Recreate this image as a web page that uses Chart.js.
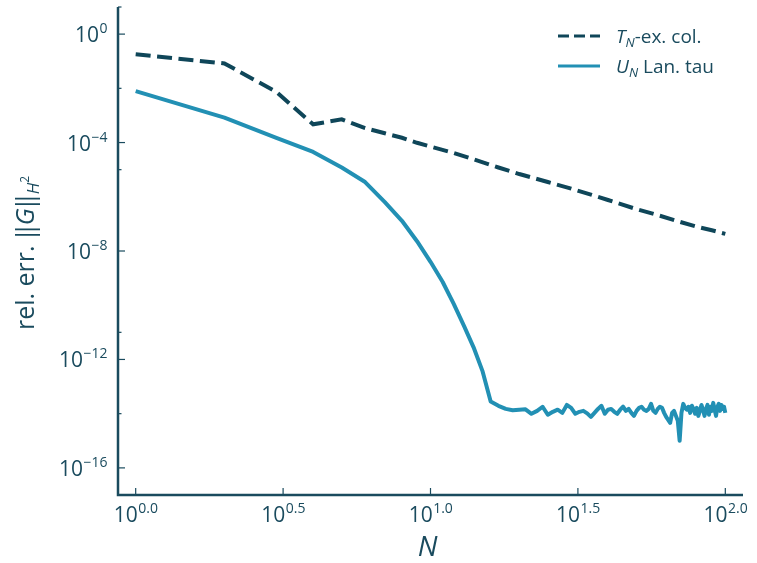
<!DOCTYPE html>
<html>
<head>
<meta charset="utf-8">
<script src="https://cdn.jsdelivr.net/npm/chart.js@4"></script>
<style>
  body { margin: 0; background: #fff; }
  #wrap { width: 757px; height: 563px; }
</style>
</head>
<body>
<div id="wrap"><canvas id="myChart" width="757" height="563"></canvas></div>
<script>
// T_N exact collocation (dashed)
var nT = [1, 2, 3, 4, 5, 6, 7, 8, 9, 10, 12, 14, 17, 20, 25, 30, 35, 40, 50, 60, 70, 80, 90, 100];
var errT = [1.8e-1, 8.3e-2, 7.4e-3, 4.7e-4, 7.2e-4, 3.4e-4, 2.2e-4, 1.5e-4, 9.8e-5, 7.1e-5,
  4.1e-5, 2.4e-5, 1.2e-5, 6.9e-6, 3.5e-6, 2.0e-6, 1.2e-6, 7.6e-7, 3.5e-7, 2.0e-7,
  1.2e-7, 7.9e-8, 5.8e-8, 4.3e-8];

// U_N Lanczos tau (solid), N = 1..100
var nU = [];
for (var n = 1; n <= 100; n++) nU.push(n);
var errU = [7.9e-3, 8.3e-4, 1.5e-4, 4.5e-5, 1.2e-5, 3.5e-6, 6.3e-7, 1.3e-7, 2.3e-8, 4.0e-9,
  7.2e-10, 1.1e-10, 1.7e-11, 2.8e-12, 3.8e-13, 2.8e-14, 1.95e-14, 1.5e-14, 1.33e-14, 1.4e-14,
  1.45e-14, 9.9e-15, 1.27e-14, 1.8e-14, 9.1e-15, 1.17e-14, 1.4e-14, 1.07e-14, 2.1e-14, 1.64e-14,
  9.9e-15, 1.17e-14, 1.27e-14, 1.03e-14, 7.6e-15, 1.07e-14, 1.5e-14, 1.95e-14, 9.9e-15, 1.4e-14,
  1.5e-14, 1.17e-14, 9.9e-15, 1.4e-14, 1.8e-14, 1.27e-14, 1.5e-14, 1.07e-14, 8.3e-15, 1.27e-14,
  1.64e-14, 1.8e-14, 1.4e-14, 1.27e-14, 1.5e-14, 2.3e-14, 1.27e-14, 1.07e-14, 1.5e-14, 1.8e-14,
  1.64e-14, 1.07e-14, 7.6e-15, 5.9e-15, 4.6e-15, 1.07e-14, 1.27e-14, 8.3e-15, 5.5e-15, 1.0e-15,
  1.07e-14, 2.3e-14, 1.64e-14, 1.4e-14, 1.8e-14, 1.07e-14, 1.95e-14, 1.5e-14, 9.9e-15, 1.64e-14,
  8.3e-15, 1.27e-14, 2.1e-14, 1.4e-14, 8.3e-15, 1.5e-14, 2.1e-14, 9.1e-15, 1.8e-14, 1.27e-14,
  2.5e-14, 1.4e-14, 8.3e-15, 1.8e-14, 2.3e-14, 1.27e-14, 2.1e-14, 1.5e-14, 1.8e-14, 1.07e-14];

// tick exponents
var xTickExp = [0, 0.5, 1, 1.5, 2];
var yMajorExp = [0, -4, -8, -12, -16];
var yMinorExp = [1, -2, -5, -11, -14];

var legendItems = ["T|N|-ex. col.", "U|N| Lan. tau"];

var dark = "#0f4659";
var light = "#2290b4";
var txt = "#1a4b5e";
var fontName = "'Open Sans', 'Noto Sans', sans-serif";

function pts(xs, ys) {
  return xs.map(function(v, i) { return { x: v, y: ys[i] }; });
}

// base text + superscript, anchored by align ("center" or "right")
function supText(ctx, base, sup, px, py, align) {
  ctx.font = "21px " + fontName;
  var wb = ctx.measureText(base).width;
  ctx.font = "14px " + fontName;
  var ws = ctx.measureText(sup).width;
  var total = wb + ws;
  var x0 = align === "right" ? px - total : px - total / 2;
  ctx.textAlign = "left";
  ctx.textBaseline = "alphabetic";
  ctx.font = "21px " + fontName;
  ctx.fillText(base, x0, py);
  ctx.font = "14px " + fontName;
  ctx.fillText(sup, x0 + wb + 0.5, py - 9);
}

var axesPlugin = {
  id: "axesPlugin",
  afterDraw: function(chart) {
    var ctx = chart.ctx;
    var a = chart.chartArea;
    var xs = chart.scales.x, ys = chart.scales.y;
    ctx.save();
    ctx.strokeStyle = txt;
    ctx.fillStyle = txt;
    ctx.lineWidth = 2.5;
    ctx.setLineDash([]);
    ctx.beginPath();
    ctx.moveTo(a.left, a.top);
    ctx.lineTo(a.left, a.bottom);
    ctx.lineTo(a.right, a.bottom);
    ctx.stroke();

    ctx.lineWidth = 1.2;
    yMajorExp.forEach(function(e) {
      var py = ys.getPixelForValue(Math.pow(10, e));
      ctx.beginPath();
      ctx.moveTo(a.left, py);
      ctx.lineTo(a.left + 7, py);
      ctx.stroke();
      supText(ctx, "10", e === 0 ? "0" : "\u2212" + Math.abs(e), a.left - 11, py + 8, "right");
    });
    yMinorExp.forEach(function(e) {
      var py = ys.getPixelForValue(Math.pow(10, e));
      ctx.beginPath();
      ctx.moveTo(a.left, py);
      ctx.lineTo(a.left + 3.5, py);
      ctx.stroke();
    });
    xTickExp.forEach(function(e) {
      var px = xs.getPixelForValue(Math.pow(10, e));
      ctx.beginPath();
      ctx.moveTo(px, a.bottom);
      ctx.lineTo(px, a.bottom - 7);
      ctx.stroke();
      supText(ctx, "10", e.toFixed(1), px, a.bottom + 27, "center");
    });

    // axis titles
    ctx.textAlign = "center";
    ctx.font = "italic 28px " + fontName;
    ctx.fillText("N", (a.left + a.right) / 2 - 3, 556);

    ctx.save();
    ctx.translate(34, 253);
    ctx.rotate(-Math.PI / 2);
    ctx.textAlign = "left";
    var big = 25;
    ctx.font = big + "px " + fontName;
    var wa = ctx.measureText("rel. err. \u2016").width;
    var wbar = ctx.measureText("\u2016").width;
    ctx.font = "italic " + big + "px " + fontName;
    var wg = ctx.measureText("G").width;
    ctx.font = "italic 17px " + fontName;
    var wh = ctx.measureText("H").width;
    ctx.font = "12px " + fontName;
    var w2 = ctx.measureText("2").width;
    var total = wa + wg + wbar + wh + w2;
    var x0 = -total / 2;
    ctx.font = big + "px " + fontName;
    ctx.fillText("rel. err. \u2016", x0, 0);
    ctx.font = "italic " + big + "px " + fontName;
    ctx.fillText("G", x0 + wa, 0);
    ctx.font = big + "px " + fontName;
    ctx.fillText("\u2016", x0 + wa + wg, 0);
    ctx.font = "italic 17px " + fontName;
    ctx.fillText("H", x0 + wa + wg + wbar, 5);
    ctx.font = "12px " + fontName;
    ctx.fillText("2", x0 + wa + wg + wbar + wh, -5);
    ctx.restore();

    // legend
    var ds = chart.data.datasets;
    legendItems.forEach(function(item, i) {
      var yy = 36 + i * 30;
      ctx.strokeStyle = ds[i].borderColor;
      ctx.lineWidth = 3;
      ctx.setLineDash(i === 0 ? [11, 5] : []);
      ctx.beginPath();
      ctx.moveTo(558, yy);
      ctx.lineTo(600, yy);
      ctx.stroke();
      ctx.setLineDash([]);
      var parts = item.split("|");
      ctx.fillStyle = txt;
      ctx.textAlign = "left";
      var xx = 616;
      ctx.font = "italic 19px " + fontName;
      ctx.fillText(parts[0], xx, yy + 7);
      xx += ctx.measureText(parts[0]).width;
      ctx.font = "italic 13px " + fontName;
      ctx.fillText(parts[1], xx, yy + 11);
      xx += ctx.measureText(parts[1]).width;
      ctx.font = "19px " + fontName;
      ctx.fillText(parts[2], xx, yy + 7);
    });
    ctx.restore();
  }
};

var ctx = document.getElementById("myChart");

var chartData = {
  datasets: [
    {
      label: "T_N-ex. col.",
      data: pts(nT, errT),
      borderColor: dark,
      borderWidth: 4,
      borderDash: [15, 6.5],
      pointRadius: 0,
      tension: 0
    },
    {
      label: "U_N Lan. tau",
      data: pts(nU, errU),
      borderColor: light,
      borderWidth: 4,
      borderJoinStyle: "round",
      pointRadius: 0,
      tension: 0
    }
  ]
};

var chart = new Chart(ctx, {
  type: "line",
  data: chartData,
  options: {
    responsive: false,
    animation: false,
    layout: { padding: { left: 118, top: 7, right: 14, bottom: 68 } },
    plugins: { legend: { display: false }, tooltip: { enabled: false } },
    scales: {
      x: { type: "logarithmic", display: false, min: Math.pow(10, -0.06), max: Math.pow(10, 2.06) },
      y: { type: "logarithmic", display: false, min: 1e-17, max: 1e1 }
    }
  },
  plugins: [axesPlugin]
});
</script>
</body>
</html>
